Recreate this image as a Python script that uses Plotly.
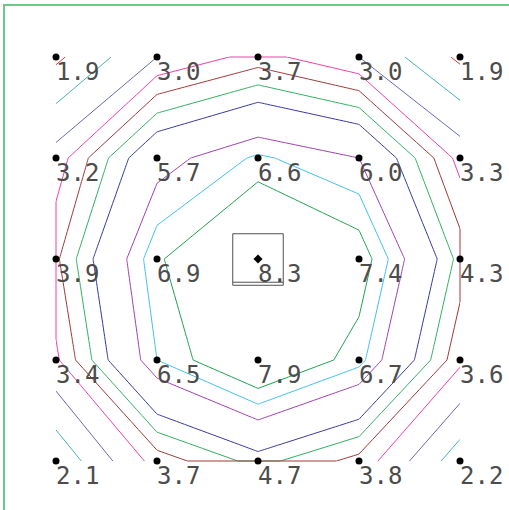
import plotly.graph_objects as go

# grid positions (columns / rows) and the measured values, row 0 at the top
cols = [0, 1, 2, 3, 4]
rows = [0, 1, 2, 3, 4]
row0 = [1.9, 3.0, 3.7, 3.0, 1.9]
row1 = [3.2, 5.7, 6.6, 6.0, 3.3]
row2 = [3.9, 6.9, 8.3, 7.4, 4.3]
row3 = [3.4, 6.5, 7.9, 6.7, 3.6]
row4 = [2.1, 3.7, 4.7, 3.8, 2.2]
z = [row0, row1, row2, row3, row4]

levels = [2.0, 2.5, 3.0, 3.5, 4.0, 4.5, 5.0, 6.0, 6.5, 7.0]
level_colors = ["#e8383c", "#48b4b4", "#6868b8", "#f040a8", "#a03838",
                "#30b060", "#3838a0", "#a040b0", "#40c0f0", "#20a050"]

fig = go.Figure()

# one contour trace per level so each line gets its own colour
for lv, col in zip(levels, level_colors):
    fig.add_trace(go.Contour(
        x=cols, y=rows, z=z,
        contours=dict(start=lv, end=lv, size=1, coloring="lines", showlabels=False),
        line=dict(width=1, smoothing=0),
        colorscale=[[0, col], [1, col]],
        showscale=False, hoverinfo="skip",
    ))

# the old tool also closes a contour along the border when only one
# border point lies above the level
perim = ([(0, c) for c in cols] + [(r, 4) for r in rows[1:]] +
         [(4, c) for c in cols[::-1][1:]] + [(r, 0) for r in rows[::-1][1:-1]])
n = len(perim)

def cross(a, b, lv):
    va, vb = z[a[0]][a[1]], z[b[0]][b[1]]
    t = (lv - va) / (vb - va)
    return a[1] + t * (b[1] - a[1]), a[0] + t * (b[0] - a[0])

for lv, col in sorted(zip(levels, level_colors), reverse=True):
    for i in range(n):
        p, prev, nxt = perim[i], perim[i - 1], perim[(i + 1) % n]
        if (z[p[0]][p[1]] >= lv and z[prev[0]][prev[1]] < lv
                and z[nxt[0]][nxt[1]] < lv):
            x1, y1 = cross(prev, p, lv)
            x2, y2 = cross(p, nxt, lv)
            fig.add_trace(go.Scatter(
                x=[x1, p[1], x2], y=[y1, p[0], y2], mode="lines",
                line=dict(color=col, width=1), hoverinfo="skip", showlegend=False))

# data points, the maximum drawn as a diamond
flat = [(r, c, z[r][c]) for r in rows for c in cols]
mr, mc, mv = max(flat, key=lambda t: t[2])
fig.add_trace(go.Scatter(
    x=[c for r, c, v in flat], y=[r for r, c, v in flat], mode="markers",
    marker=dict(color="black", size=7,
                symbol=["diamond" if (r, c) == (mr, mc) else "circle" for r, c, v in flat]),
    hoverinfo="skip", showlegend=False))

for r, c, v in flat:
    fig.add_annotation(x=c, y=r, xref="x", yref="y", text=f"{v:.1f}",
                       showarrow=False, xanchor="left", yanchor="top",
                       xshift=-2, yshift=1,
                       font=dict(family="DejaVu Sans Mono", size=24, color="#4c4c4c"))

# box round the maximum
fig.add_shape(type="rect", x0=mc - 0.25, x1=mc + 0.25, y0=mr - 0.25, y1=mr + 0.26,
              line=dict(color="#505050", width=1))
fig.add_shape(type="line", x0=mc - 0.25, x1=mc + 0.25, y0=mr + 0.23, y1=mr + 0.23,
              line=dict(color="#505050", width=1))

fig.update_layout(
    width=509, height=510,
    margin=dict(l=5, r=0, t=6, b=0),
    plot_bgcolor="white", paper_bgcolor="white",
    showlegend=False,
    xaxis=dict(range=[-0.505, 4.485], side="top", showline=True, linecolor="#66cc88",
               linewidth=1.5, showgrid=False, zeroline=False, showticklabels=False, ticks=""),
    yaxis=dict(range=[4.485, -0.505], showline=True, linecolor="#66cc88",
               linewidth=1.5, showgrid=False, zeroline=False, showticklabels=False, ticks=""),
)

# page margin off so the figure sits in the corner of the window
fig.write_html("out.html", config={"displayModeBar": False},
               post_script="document.body.style.margin='0';")
